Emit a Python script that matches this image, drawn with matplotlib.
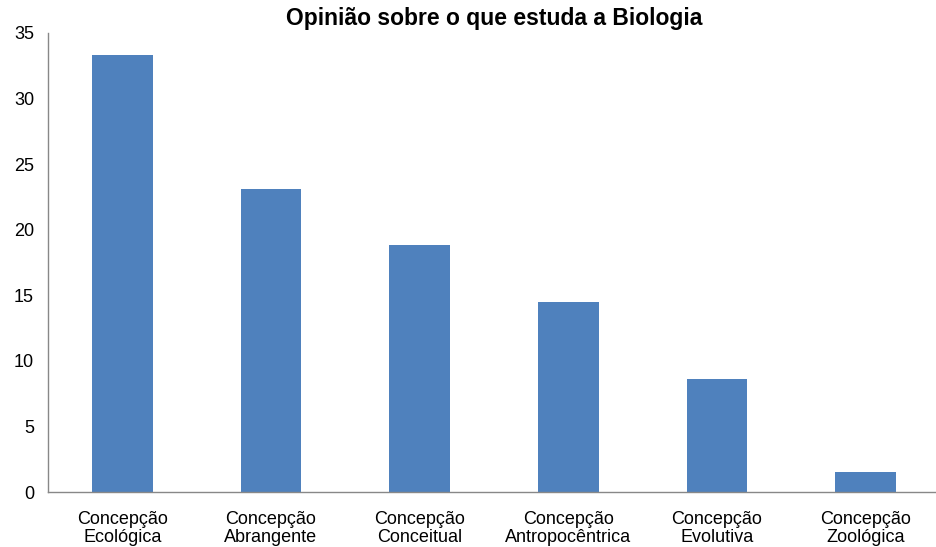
import matplotlib.pyplot as plt

plt.rcParams["font.family"] = ["Liberation Sans", "DejaVu Sans"]

categories = [
    "Concepção\nEcológica",
    "Concepção\nAbrangente",
    "Concepção\nConceitual",
    "Concepção\nAntropocêntrica",
    "Concepção\nEvolutiva",
    "Concepção\nZoológica",
]
values = [33.3, 23.1, 18.8, 14.5, 8.6, 1.5]

fig = plt.figure(figsize=(9.37, 5.47), dpi=100)
ax = fig.add_axes([0.0512, 0.1005, 0.952, 0.8392])

ax.bar(range(len(values)), values, width=0.41, color="#4F81BD")

ax.set_xlim(-0.5, len(values) - 0.5)
ax.set_ylim(0, 35)
ax.set_yticks(range(0, 36, 5))
ax.set_xticks(range(len(values)))
ax.set_xticklabels(categories, fontsize=13, linespacing=1.05)
ax.tick_params(axis="y", length=0, labelsize=13, pad=10)
ax.tick_params(axis="x", length=0, pad=14)

for side in ["top", "right"]:
    ax.spines[side].set_visible(False)
for side in ["left", "bottom"]:
    ax.spines[side].set_color("#888888")
    ax.spines[side].set_linewidth(1.0)

ax.set_title("Opinião sobre o que estuda a Biologia",
             fontsize=16.5, fontweight="bold", pad=6)

plt.savefig("out.png", dpi=100)
